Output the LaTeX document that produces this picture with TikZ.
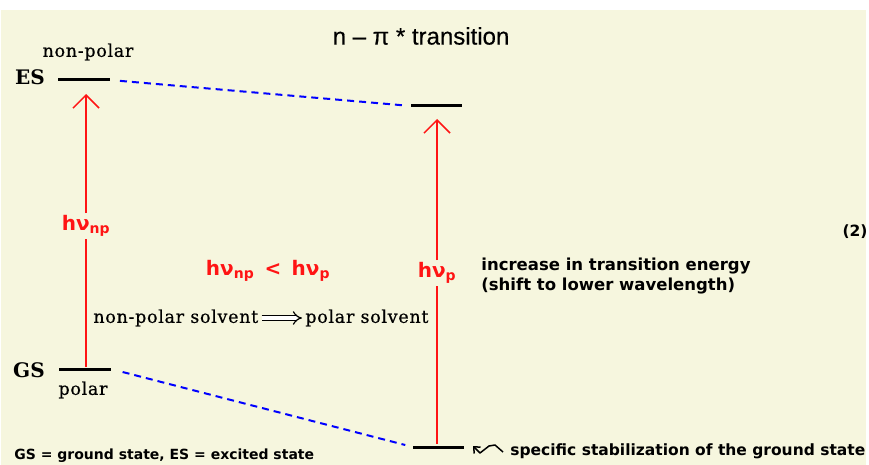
\documentclass[tikz,border=0pt]{standalone}
\usepackage{fontspec}
\setmainfont{DejaVu Serif}
\newfontfamily\sansfont{DejaVu Sans}
\newfontfamily\titlefont{Liberation Sans}
\usetikzlibrary{arrows.meta}

\definecolor{cream}{RGB}{246,246,222}
\definecolor{photonred}{RGB}{255,20,20}

\tikzset{every picture/.style={line width=0.75pt}}
\tikzset{
  level/.style={line width=3pt, black},
  dashline/.style={blue, line width=2pt, dash pattern=on 7pt off 5pt},
  photon/.style={photonred, line width=1.5pt},
  photontip/.style={-{Straight Barb[length=13pt,width=26pt]}},
  serifnode/.style={font=\fontsize{17.5}{20}\selectfont\addfontfeature{LetterSpace=4,FakeBold=0.6}, inner sep=1pt},
  statenode/.style={font=\fontsize{20}{22}\selectfont\bfseries, inner sep=1pt},
  sansnode/.style={font=\sansfont\bfseries\fontsize{15.5}{20}\selectfont, inner sep=1pt},
  hvnode/.style={font=\sansfont\bfseries\fontsize{20}{22}\selectfont, text=photonred, inner sep=2pt}
}

\begin{document}
\begin{tikzpicture}[x=1pt,y=1pt,yscale=-1,xscale=1]
\useasboundingbox (0,0) rectangle (869,465);
%background
\fill [white] (0,0) rectangle (869,465);
\fill [cream] (1,10) rectangle (866,465);

%level end points
\coordinate (esA1) at (58,80);
\coordinate (esA2) at (110,80);
\coordinate (esB1) at (411,106);
\coordinate (esB2) at (462,106);
\coordinate (gsA1) at (59,369);
\coordinate (gsA2) at (111,369);
\coordinate (gsB1) at (413,447);
\coordinate (gsB2) at (464,447);
%arrow end points
\coordinate (upA) at (86,94);
\coordinate (lowA) at (86,367);
\coordinate (upB) at (437,119);
\coordinate (lowB) at (437,444);

% Levels
\draw [level] (esA1) -- (esA2);
\draw [level] (esB1) -- (esB2);
\draw [level] (gsA1) -- (gsA2);
\draw [level] (gsB1) -- (gsB2);

% Dashed correlation lines
\draw [dashline, shorten <=10pt, shorten >=6pt] (esA2) -- (esB1);
\draw [dashline, shorten <=12pt, shorten >=8pt] (gsA2) -- (gsB1);

% Text Node
\node [font=\titlefont\fontsize{24}{26}\selectfont\addfontfeature{FakeBold=0.4}] (title) at (421,36) {n – π * transition};
% Text Node
\node [serifnode] (esabove) at (88,52) {non-polar};
% Text Node
\node [statenode] (es) at (30,77) {ES};
% Text Node
\node [statenode] (gs) at (29,370) {GS};
% Text Node
\node [serifnode] (gsbelow) at (83,390) {polar};
% Text Node
\node [hvnode] (hvnp) at (86,226) {hν\textsubscript{np}};
% Text Node
\node [hvnode] (hvp) at (437,273) {hν\textsubscript{p}};
% Text Node
\node [hvnode] (compare) at (268,271) {hν\textsubscript{np} \,<\, hν\textsubscript{p}};
% Text Node
\node [sansnode, font=\sansfont\bfseries\fontsize{16.5}{20}\selectfont, anchor=west, align=left] (increase) at (480,276) {increase in transition energy\\(shift to lower wavelength)};
% Text Node
\node [serifnode, anchor=west, inner sep=3pt] (npsolv) at (90,318) {non-polar solvent};
% Text Node
\node [serifnode, anchor=west, inner sep=3pt] (psolv) at (302,318) {polar solvent};
% Text Node
\node [sansnode] (eqno) at (855,232) {(2)};
% Text Node
\node [sansnode, anchor=west] (stab) at (509,451) {specific stabilization of the ground state};
% Text Node
\node [sansnode, font=\sansfont\bfseries\fontsize{14}{16}\selectfont, anchor=west] (legend) at (13,456) {GS = ground state, ES = excited state};

% Photon arrows
\draw [photon] (lowA) -- (hvnp);
\draw [photon, photontip] (hvnp) -- (upA);
\draw [photon] (lowB) -- (hvp);
\draw [photon, photontip] (hvp) -- (upB);

% Solvent change
\draw [double, double distance=3.5pt, line width=1.2pt, -{Implies}] (npsolv) -- (psolv);

% Wavy stabilization arrow
\draw [line width=1.5pt, line join=round, -{Straight Barb[length=5pt,width=9pt]}] (stab.west) ++(-6,1) -- ++(-8,-7) -- ++(-6,1) -- ++(-9,7) -- ++(-7,-7);
\end{tikzpicture}
\end{document}
